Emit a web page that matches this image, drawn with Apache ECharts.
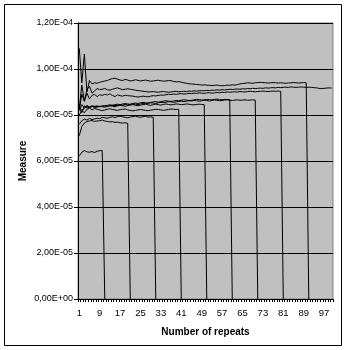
<!DOCTYPE html>
<html>
<head>
<meta charset="utf-8">
<script src="https://cdn.jsdelivr.net/npm/echarts@6/dist/echarts.min.js"></script>
<style>
html,body{margin:0;padding:0;background:#fff;}
#chart{width:346px;height:350px;}
</style>
</head>
<body>
<div id="chart"></div>
<script>
// values in units of 1E-05
var UNIT = 1e-5;
var categories = [];
for (var i = 1; i <= 100; i++) categories.push(String(i));

var s10 = [6.22,6.38,6.45,6.40,6.38,6.41,6.37,6.42,6.45,6.45];
var s20 = [7.10,7.50,7.65,7.72,7.74,7.76,7.72,7.74,7.75,7.78,7.74,7.72,7.70,7.71,7.68,7.69,7.66,7.65,7.66,7.64];
var s30 = [7.60,7.75,7.82,7.78,7.85,7.80,7.83,7.86,7.84,7.90,7.88,7.86,7.90,7.92,7.89,7.93,7.95,7.92,7.90,7.88,7.91,7.93,7.95,7.92,7.90,7.93,7.94,7.91,7.92,7.90];
var s40 = [8.00,8.20,8.10,8.25,8.30,8.22,8.28,8.25,8.22,8.19,8.22,8.25,8.27,8.24,8.22,8.20,8.23,8.25,8.26,8.22,8.20,8.18,8.20,8.22,8.24,8.22,8.20,8.19,8.21,8.23,8.25,8.24,8.22,8.20,8.22,8.24,8.26,8.25,8.24,8.25];
var s50 = [8.30,8.10,8.40,8.30,8.35,8.38,8.32,8.35,8.38,8.36,8.34,8.37,8.40,8.38,8.36,8.40,8.42,8.40,8.38,8.41,8.43,8.45,8.42,8.40,8.43,8.45,8.47,8.44,8.42,8.45,8.47,8.45,8.43,8.46,8.48,8.46,8.44,8.46,8.48,8.47,8.45,8.46,8.48,8.47,8.45,8.44,8.46,8.47,8.46,8.45];
var s60 = [8.20,8.45,8.30,8.38,8.35,8.40,8.37,8.40,8.36,8.38,8.40,8.42,8.44,8.42,8.45,8.47,8.45,8.48,8.50,8.48,8.47,8.50,8.52,8.50,8.53,8.55,8.53,8.52,8.55,8.57,8.58,8.56,8.58,8.60,8.62,8.60,8.59,8.61,8.63,8.62,8.64,8.66,8.65,8.63,8.64,8.66,8.68,8.67,8.65,8.66,8.68,8.67,8.66,8.68,8.69,8.67,8.66,8.68,8.67,8.67];
var s70 = [8.35,8.20,8.30,8.42,8.33,8.36,8.38,8.35,8.37,8.39,8.40,8.38,8.41,8.43,8.40,8.42,8.45,8.43,8.46,8.44,8.46,8.48,8.47,8.45,8.48,8.50,8.49,8.51,8.53,8.52,8.50,8.53,8.55,8.54,8.56,8.58,8.57,8.55,8.57,8.59,8.60,8.58,8.60,8.62,8.61,8.63,8.62,8.60,8.62,8.64,8.63,8.61,8.63,8.65,8.64,8.62,8.63,8.65,8.66,8.64,8.63,8.65,8.66,8.64,8.65,8.66,8.64,8.65,8.66,8.65];
var s80 = [8.20,8.90,8.60,8.95,8.70,8.85,8.90,8.80,8.88,8.85,8.90,8.87,8.92,8.85,8.80,8.88,8.84,8.82,8.86,8.84,8.83,8.82,8.80,8.78,8.80,8.82,8.80,8.79,8.82,8.84,8.83,8.85,8.87,8.86,8.88,8.90,8.89,8.91,8.90,8.92,8.93,8.91,8.92,8.94,8.93,8.95,8.94,8.96,8.95,8.94,8.96,8.97,8.95,8.96,8.98,8.97,8.99,8.98,9.00,8.99,9.00,9.01,9.00,9.02,9.01,9.00,9.02,9.03,9.02,9.01,9.02,9.03,9.04,9.03,9.02,9.03,9.04,9.03,9.04,9.03];
var s90 = [10.90,9.40,10.65,9.00,9.50,9.35,9.40,9.38,9.42,9.45,9.48,9.50,9.55,9.58,9.60,9.56,9.52,9.50,9.55,9.52,9.48,9.50,9.53,9.51,9.48,9.50,9.52,9.49,9.47,9.48,9.50,9.51,9.49,9.47,9.48,9.50,9.49,9.46,9.44,9.45,9.43,9.40,9.38,9.36,9.35,9.34,9.33,9.32,9.30,9.31,9.30,9.29,9.28,9.29,9.30,9.28,9.27,9.28,9.30,9.29,9.31,9.30,9.32,9.35,9.37,9.38,9.40,9.39,9.38,9.40,9.41,9.42,9.41,9.40,9.39,9.40,9.41,9.40,9.39,9.40,9.39,9.38,9.39,9.40,9.41,9.40,9.39,9.40,9.41,9.40];
var s100 = [8.30,9.30,8.60,9.10,9.25,8.95,9.05,9.15,9.10,9.12,9.15,9.10,9.08,9.12,9.15,9.18,9.14,9.10,9.12,9.14,9.12,9.10,9.08,9.06,9.05,9.03,9.02,9.00,9.01,9.02,9.00,8.99,9.01,9.02,9.00,8.99,9.00,9.02,9.03,9.01,9.02,9.03,9.02,9.04,9.03,9.05,9.04,9.05,9.06,9.05,9.07,9.06,9.08,9.07,9.09,9.08,9.10,9.09,9.10,9.12,9.11,9.12,9.13,9.12,9.14,9.13,9.15,9.14,9.16,9.15,9.16,9.17,9.16,9.18,9.17,9.18,9.19,9.18,9.20,9.19,9.20,9.21,9.20,9.22,9.21,9.20,9.21,9.22,9.21,9.20,9.21,9.20,9.19,9.18,9.16,9.15,9.16,9.17,9.18,9.17];

var allSeries = [s10, s20, s30, s40, s50, s60, s70, s80, s90, s100];

function fmt(v) {
  if (Math.abs(v) < 1e-20) return '0,00E+00';
  var e = Math.floor(Math.log10(Math.abs(v)) + 1e-9);
  var m = Math.round(v / Math.pow(10, e) * 100) / 100;
  if (m >= 10) { m = m / 10; e += 1; }
  var es = String(Math.abs(e)); if (es.length < 2) es = '0' + es;
  return m.toFixed(2).replace('.', ',') + 'E' + (e < 0 ? '-' : '+') + es;
}

var series = allSeries.map(function (arr) {
  var d = arr.map(function (v) { return v * UNIT; });
  if (d.length < categories.length) d.push(0);
  return {
    type: 'line', data: d, symbol: 'none', showSymbol: false,
    lineStyle: { color: '#000', width: 1 }, silent: true, animation: false
  };
});

var chart = echarts.init(document.getElementById('chart'), null, { renderer: 'canvas' });
var FONT = '"Liberation Sans", Arial, sans-serif';
chart.setOption({
  animation: false,
  backgroundColor: '#fff',
  graphic: [{
    type: 'rect', shape: { x: 4.5, y: 4.5, width: 337, height: 341 },
    style: { fill: null, stroke: '#000', lineWidth: 1 }, z: -1
  }],
  grid: {
    left: 78, right: 13, top: 23, bottom: 51,
    show: true, backgroundColor: '#C0C0C0', borderColor: '#808080', borderWidth: 1
  },
  xAxis: {
    type: 'category', data: categories, boundaryGap: true,
    name: 'Number of repeats', nameLocation: 'middle', nameGap: 28, nameMoveOverlap: false,
    nameTextStyle: { fontFamily: FONT, fontSize: 10, fontWeight: 'bold', color: '#000' },
    axisLine: { lineStyle: { color: '#000', width: 1 } },
    axisTick: { show: true, interval: 0, length: 3, lineStyle: { color: '#000' } },
    axisLabel: { interval: 7, fontFamily: FONT, fontSize: 9.5, color: '#000', margin: 9 },
    splitLine: { show: false }
  },
  yAxis: {
    type: 'value', min: 0, max: 1.2e-4, interval: 2e-5,
    name: 'Measure', nameLocation: 'middle', nameGap: 50, nameMoveOverlap: false,
    nameTextStyle: { fontFamily: FONT, fontSize: 10, fontWeight: 'bold', color: '#000' },
    axisLine: { show: true, lineStyle: { color: '#000', width: 1 } },
    axisTick: { show: true, length: 4, lineStyle: { color: '#000' } },
    axisLabel: { fontFamily: FONT, fontSize: 9, color: '#000', margin: 5, formatter: fmt },
    splitLine: { show: true, lineStyle: { color: '#000', width: 1 } }
  },
  series: series
});
</script>
</body>
</html>
